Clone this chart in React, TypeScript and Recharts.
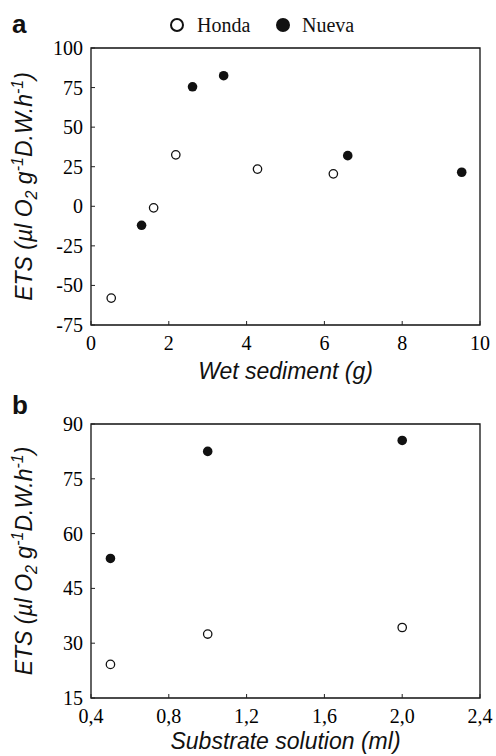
import { ScatterChart, Scatter, XAxis, YAxis, ReferenceArea } from 'recharts';

// panel a: ETS vs wet sediment
const wetHondaX = [0.52, 1.61, 2.18, 4.28, 6.23];
const wetHondaY = [-58, -1, 32.5, 23.5, 20.5];
const wetNuevaX = [1.3, 2.61, 3.41, 6.6, 9.53];
const wetNuevaY = [-12, 75.5, 82.5, 32, 21.5];
const wetXTicks = [0, 2, 4, 6, 8, 10];
const wetYTicks = [-75, -50, -25, 0, 25, 50, 75, 100];

// panel b: ETS vs substrate solution
const subHondaX = [0.5, 1.0, 2.0];
const subHondaY = [24.2, 32.5, 34.3];
const subNuevaX = [0.5, 1.0, 2.0];
const subNuevaY = [53.2, 82.5, 85.5];
const subXTicks = [0.4, 0.8, 1.2, 1.6, 2.0, 2.4];
const subYTicks = [15, 30, 45, 60, 75, 90];

const serif = '"Liberation Serif", "Times New Roman", serif';
const sans = '"Liberation Sans", Arial, sans-serif';

const toPoints = (xs: number[], ys: number[]) => xs.map((x, i) => ({ x, y: ys[i] }));

const openDot = (p: any) => <circle cx={p.cx} cy={p.cy} r={4.2} fill="#fff" stroke="#111" strokeWidth={1.3} />;
const filledDot = (p: any) => <circle cx={p.cx} cy={p.cy} r={4.8} fill="#111" />;

function LeftTick({ x, y, payload, fmt }: any) {
  return (
    <g>
      <line x1={x + 8} x2={x + 12} y1={y} y2={y} stroke="#222" />
      <text x={x} y={y + 7} textAnchor="end" style={{ fontFamily: serif, fontSize: 20 }} fill="#000">
        {fmt ? fmt(payload.value) : payload.value}
      </text>
    </g>
  );
}

function RightTick({ x, y }: any) {
  return <line x1={x} x2={x - 4} y1={y} y2={y} stroke="#222" />;
}

function BottomTick({ x, y, payload, fmt }: any) {
  return (
    <g>
      <line x1={x} x2={x} y1={y} y2={y - 4} stroke="#222" />
      <text x={x} y={y + 25} textAnchor="middle" style={{ fontFamily: serif, fontSize: 20 }} fill="#000">
        {fmt ? fmt(payload.value) : payload.value}
      </text>
    </g>
  );
}

function YTitle({ viewBox }: any) {
  const cy = viewBox.y + viewBox.height / 2;
  const cx = viewBox.x + 32;
  return (
    <text
      x={cx}
      y={cy}
      transform={`rotate(-90 ${cx} ${cy})`}
      textAnchor="middle"
      style={{ fontFamily: sans, fontStyle: 'italic', fontSize: 23 }}
      fill="#111"
    >
      ETS (µl O<tspan dy={5} fontSize={16}>2</tspan>
      <tspan dy={-5}> g</tspan>
      <tspan dy={-9} fontSize={16}>-1</tspan>
      <tspan dy={9}>D.W.h</tspan>
      <tspan dy={-9} fontSize={16}>-1</tspan>
      <tspan dy={9}>)</tspan>
    </text>
  );
}

const xTitle = (text: string, offset: number) => (props: any) => {
  const vb = props.viewBox;
  return (
    <text
      x={vb.x + vb.width / 2}
      y={vb.y + offset}
      textAnchor="middle"
      style={{ fontFamily: sans, fontStyle: 'italic', fontSize: 23 }}
      fill="#111"
    >
      {text}
    </text>
  );
};

const comma = (v: number) => v.toFixed(1).replace('.', ',');

export default function App() {
  return (
    <div style={{ position: 'absolute', left: 0, top: 0, width: 496, height: 756, background: '#fff' }}>
      <svg width={496} height={756} style={{ position: 'absolute', left: 0, top: 0 }}>
        <text x={12} y={33} fontFamily={sans} fontWeight="bold" fontSize={26} fill="#111">a</text>
        <text x={12} y={414} fontFamily={sans} fontWeight="bold" fontSize={26} fill="#111">b</text>
        <circle cx={177} cy={25} r={6} fill="#fff" stroke="#111" strokeWidth={2} />
        <text x={197} y={32} fontFamily={serif} fontSize={20} fill="#111">Honda</text>
        <circle cx={283} cy={25} r={7} fill="#111" />
        <text x={302} y={32} fontFamily={serif} fontSize={20} fill="#111">Nueva</text>
      </svg>

      <div style={{ position: 'absolute', left: 0, top: 0 }}>
        <ScatterChart width={496} height={400} margin={{ top: 48, right: 0, bottom: 15, left: 0 }}>
          <XAxis
            type="number"
            dataKey="x"
            domain={[0, 10]}
            ticks={wetXTicks}
            interval={0}
            height={60}
            axisLine={false}
            tickLine={false}
            tickSize={0}
            tickMargin={0}
            tick={(p: any) => <BottomTick {...p} />}
            label={{ content: xTitle('Wet sediment (g)', 54) }}
          />
          <YAxis
            type="number"
            dataKey="y"
            domain={[-75, 100]}
            ticks={wetYTicks}
            interval={0}
            width={91}
            axisLine={false}
            tickLine={false}
            tickSize={0}
            tickMargin={8}
            tick={(p: any) => <LeftTick {...p} />}
            label={{ content: YTitle }}
          />
          <YAxis
            yAxisId="r"
            orientation="right"
            type="number"
            domain={[-75, 100]}
            ticks={wetYTicks}
            interval={0}
            width={16}
            axisLine={false}
            tickLine={false}
            tickSize={0}
            tickMargin={0}
            tick={(p: any) => <RightTick {...p} />}
          />
          <ReferenceArea x1={0} x2={10} y1={-75} y2={100} fill="none" stroke="#111" strokeWidth={1.3} />
          <Scatter name="Honda" data={toPoints(wetHondaX, wetHondaY)} shape={openDot} isAnimationActive={false} />
          <Scatter name="Nueva" data={toPoints(wetNuevaX, wetNuevaY)} shape={filledDot} isAnimationActive={false} />
        </ScatterChart>
      </div>

      <div style={{ position: 'absolute', left: 0, top: 380 }}>
        <ScatterChart width={496} height={376} margin={{ top: 44, right: 0, bottom: 0, left: 0 }}>
          <XAxis
            type="number"
            dataKey="x"
            domain={[0.4, 2.4]}
            ticks={subXTicks}
            interval={0}
            height={58}
            axisLine={false}
            tickLine={false}
            tickSize={0}
            tickMargin={0}
            tick={(p: any) => <BottomTick {...p} fmt={comma} />}
            label={{ content: xTitle('Substrate solution (ml)', 51) }}
          />
          <YAxis
            type="number"
            dataKey="y"
            domain={[15, 90]}
            ticks={subYTicks}
            interval={0}
            width={91}
            axisLine={false}
            tickLine={false}
            tickSize={0}
            tickMargin={8}
            tick={(p: any) => <LeftTick {...p} />}
            label={{ content: YTitle }}
          />
          <YAxis
            yAxisId="r"
            orientation="right"
            type="number"
            domain={[15, 90]}
            ticks={subYTicks}
            interval={0}
            width={16}
            axisLine={false}
            tickLine={false}
            tickSize={0}
            tickMargin={0}
            tick={(p: any) => <RightTick {...p} />}
          />
          <ReferenceArea x1={0.4} x2={2.4} y1={15} y2={90} fill="none" stroke="#111" strokeWidth={1.3} />
          <Scatter name="Honda" data={toPoints(subHondaX, subHondaY)} shape={openDot} isAnimationActive={false} />
          <Scatter name="Nueva" data={toPoints(subNuevaX, subNuevaY)} shape={filledDot} isAnimationActive={false} />
        </ScatterChart>
      </div>
    </div>
  );
}
